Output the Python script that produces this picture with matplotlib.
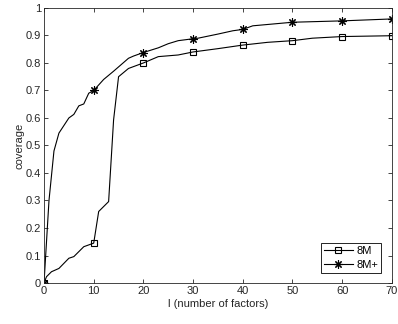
import matplotlib
matplotlib.use('Agg')
import matplotlib.pyplot as plt

plt.rcParams.update({'font.family': 'Liberation Sans', 'font.size': 8})

# 8M curve
l_8m = [0, 0.5, 1.5, 3, 5, 6, 8, 10, 11, 13, 14, 15, 17, 20, 23, 27, 30, 35, 40, 45, 50, 54, 60, 70]
cov_8m = [0, 0.023, 0.041, 0.053, 0.09, 0.096, 0.132, 0.145, 0.26, 0.296, 0.593, 0.75, 0.78,
          0.80, 0.823, 0.829, 0.84, 0.852, 0.865, 0.875, 0.881, 0.89, 0.896, 0.899]

# 8M+ curve
l_8mp = [0, 1, 2, 3, 5, 6, 7, 8, 9, 10, 11, 12, 14, 17, 18, 20, 23, 25, 27, 30, 31, 35, 38,
         40, 42, 50, 60, 70]
cov_8mp = [0, 0.3, 0.48, 0.545, 0.6, 0.613, 0.644, 0.651, 0.69, 0.70, 0.72, 0.74, 0.77, 0.817,
           0.825, 0.838, 0.855, 0.87, 0.881, 0.888, 0.89, 0.905, 0.917, 0.922, 0.935, 0.948,
           0.953, 0.96]

fig = plt.figure(figsize=(3.98, 3.24), dpi=100)
ax = fig.add_axes([0.1106, 0.1265, 0.874, 0.849])

mk_8m = [i for i, v in enumerate(l_8m) if v % 10 == 0]
mk_8mp = [i for i, v in enumerate(l_8mp) if v % 10 == 0]

ax.plot(l_8m, cov_8m, color='black', lw=0.8, marker='s', markersize=5,
        markerfacecolor='none', markeredgewidth=0.8, markevery=mk_8m, label='8M')
ax.plot(l_8mp, cov_8mp, color='black', lw=0.8, marker=(8, 2, 0), markersize=6,
        markeredgewidth=0.8, markevery=mk_8mp, label='8M+')

ax.set_xlim(0, 70)
ax.set_ylim(0, 1)
ax.set_xticks(range(0, 71, 10))
ax.set_yticks([i / 10 for i in range(11)])
ax.set_yticklabels(['0', '0.1', '0.2', '0.3', '0.4', '0.5', '0.6', '0.7', '0.8', '0.9', '1'])
ax.tick_params(direction='in', length=3, width=0.6, top=True, right=True,
               colors='#262626', labelsize=8, pad=2)
for s in ax.spines.values():
    s.set_linewidth(0.6)
    s.set_color('#262626')

ax.set_xlabel('l (number of factors)', fontsize=8, color='#262626', labelpad=2)
ax.set_ylabel('coverage', fontsize=8, color='#262626', labelpad=1)

leg = ax.legend(loc='lower right', fontsize=8, fancybox=False, framealpha=1,
                edgecolor='black', handlelength=2.6, borderpad=0.3,
                labelspacing=0.3, handletextpad=0.3, borderaxespad=0,
                bbox_to_anchor=(0.97, 0.037))
leg.get_frame().set_linewidth(0.6)

plt.savefig('out.png', dpi=100)
plt.close()
